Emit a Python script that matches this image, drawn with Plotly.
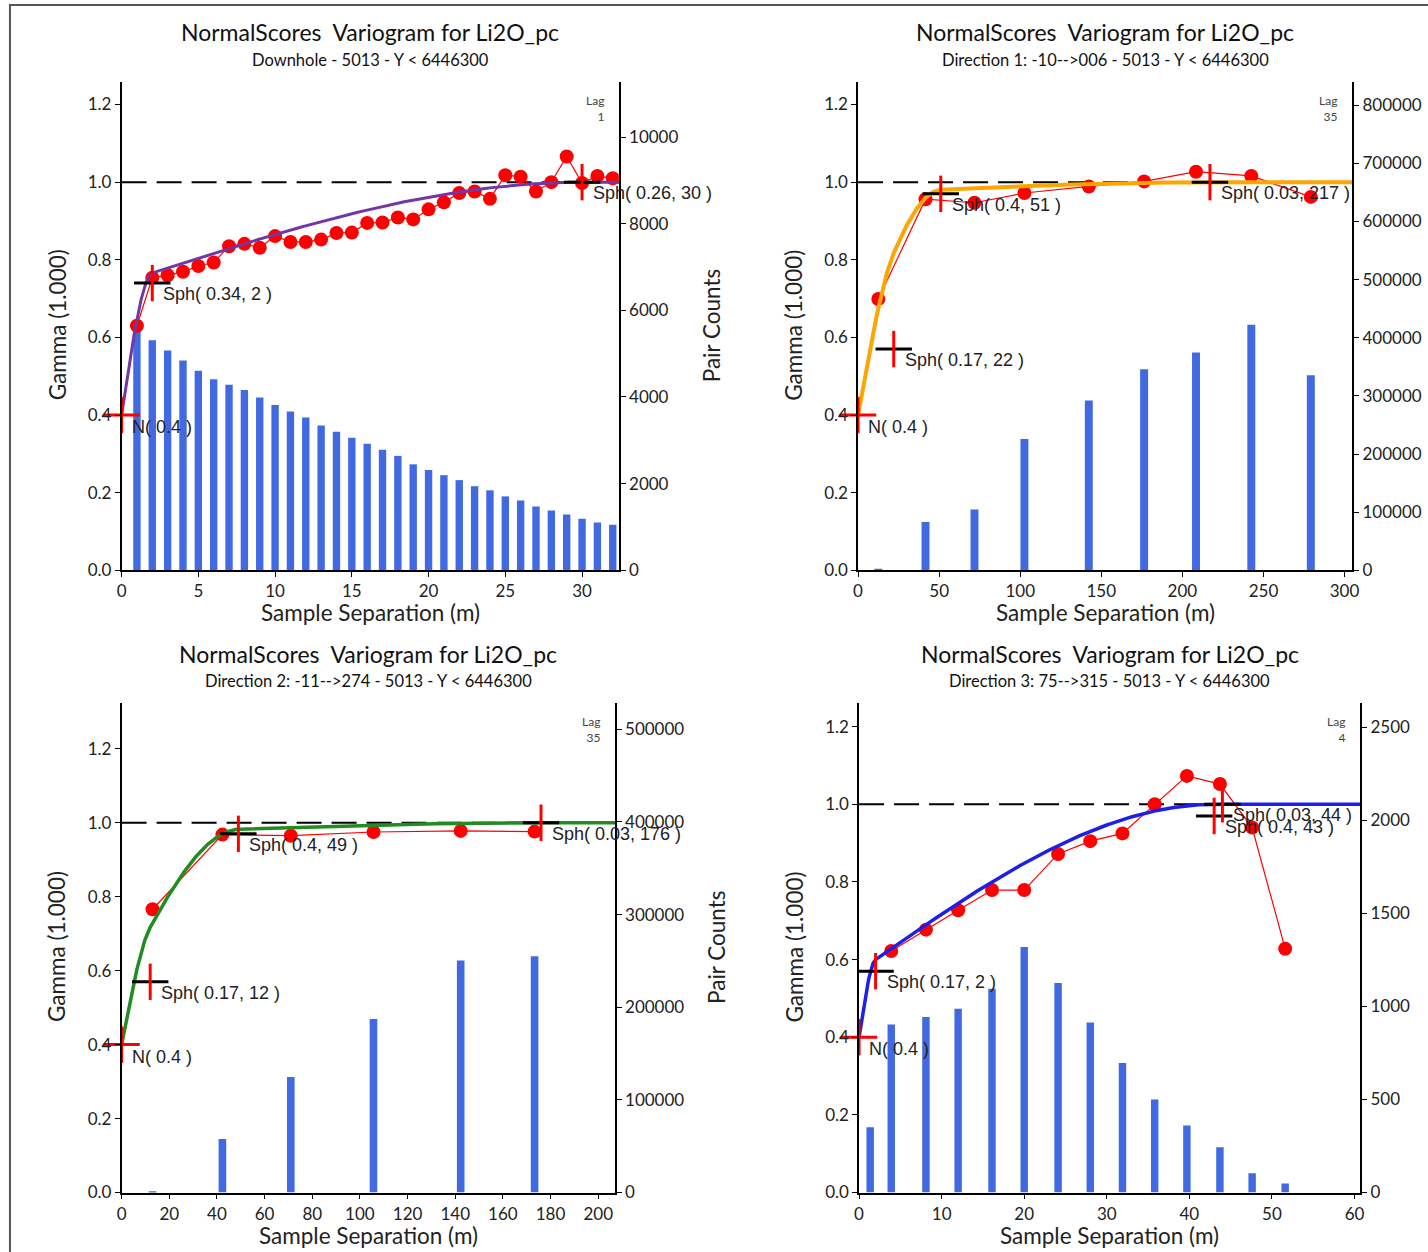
import numpy as np
import plotly.graph_objects as go

W, H = 1428, 1252

# ---------------- data ----------------
title_text = "NormalScores  Variogram for Li2O_pc"
subtitles = [
    "Downhole - 5013 - Y < 6446300",
    "Direction 1: -10-->006 - 5013 - Y < 6446300",
    "Direction 2: -11-->274 - 5013 - Y < 6446300",
    "Direction 3: 75-->315 - 5013 - Y < 6446300",
]
lag_sizes = [1, 35, 35, 4]

# Panel 1 : Downhole
lags_1 = [1, 2, 3, 4, 5, 6, 7, 8, 9, 10, 11, 12, 13, 14, 15, 16,
          17, 18, 19, 20, 21, 22, 23, 24, 25, 26, 27, 28, 29, 30, 31, 32]
gamma_1 = [0.630, 0.754, 0.760, 0.769, 0.784, 0.793, 0.835, 0.841, 0.831, 0.861, 0.846,
           0.846, 0.852, 0.869, 0.870, 0.895, 0.896, 0.909, 0.904, 0.930, 0.948, 0.972,
           0.976, 0.957, 1.018, 1.014, 0.976, 1.000, 1.066, 0.998, 1.016, 1.010]
pairs_1 = [5560, 5310, 5075, 4840, 4605, 4410, 4280, 4160, 3990, 3815, 3665, 3525,
           3340, 3200, 3060, 2920, 2780, 2640, 2445, 2315, 2195, 2080, 1940, 1845,
           1705, 1610, 1470, 1380, 1285, 1190, 1100, 1050]
nugget_1 = 0.4
sph_sills_1 = [0.34, 0.26]
sph_ranges_1 = [2, 30]

# Panel 2 : Direction 1
lags_2 = [12.5, 41.6, 71.8, 102.6, 142.3, 176.4, 208.4, 242.5, 279.2]
gamma_2 = [0.699, 0.956, 0.947, 0.972, 0.989, 1.002, 1.027, 1.016, 0.962]
pairs_2 = [2500, 83000, 104500, 226000, 292000, 346000, 374500, 422500, 335600]
nugget_2 = 0.4
sph_sills_2 = [0.17, 0.4, 0.03]
sph_ranges_2 = [22, 51, 217]

# Panel 3 : Direction 2
lags_3 = [13.0, 42.3, 71.0, 105.7, 142.3, 173.3]
gamma_3 = [0.766, 0.968, 0.965, 0.975, 0.978, 0.976]
pairs_3 = [1500, 57800, 124600, 187400, 250500, 254900]
nugget_3 = 0.4
sph_sills_3 = [0.17, 0.4, 0.03]
sph_ranges_3 = [12, 49, 176]

# Panel 4 : Direction 3
lags_4 = [3.9, 8.1, 12.0, 16.1, 20.0, 24.1, 28.0, 31.9, 35.8, 39.7, 43.7, 47.6, 51.6]
gamma_4 = [0.622, 0.677, 0.727, 0.779, 0.779, 0.872, 0.905, 0.925, 1.000, 1.073,
           1.052, 0.940, 0.628]
pair_lags_4 = [1.35, 3.9, 8.1, 12.0, 16.1, 20.0, 24.1, 28.0, 31.9, 35.8, 39.7, 43.7, 47.6, 51.6]
pairs_4 = [351, 903, 943, 988, 1095, 1320, 1126, 914, 696, 500, 360, 243, 103, 49]
nugget_4 = 0.4
sph_sills_4 = [0.17, 0.4, 0.03]
sph_ranges_4 = [2, 43, 44]

model_colors = ["rgb(115,55,165)", "rgb(255,165,0)", "rgb(34,139,34)", "rgb(30,30,235)"]
model_widths = [3, 4, 3.5, 3.5]

# layout scale factors (pixel boxes below are measured on the reference)
KX, KY = 1.005, 1.0085


def PX(v):
    return v * KX


def PY(v):
    return v * KY


panels = [
    dict(lags=lags_1, gamma=gamma_1, plags=lags_1, pairs=pairs_1, nug=nugget_1,
         sills=sph_sills_1, ranges=sph_ranges_1, px=(117, 616, 82, 570),
         xmax=32.4, gmax=1.258, cmax=11270, xdt=5, cdt=2000, barw=0.48, pc_off=93),
    dict(lags=lags_2, gamma=gamma_2, plags=lags_2, pairs=pairs_2, nug=nugget_2,
         sills=sph_sills_2, ranges=sph_ranges_2, px=(856, 1352, 82, 570),
         xmax=304.8, gmax=1.258, cmax=840000, xdt=50, cdt=100000, barw=4.9, pc_off=None),
    dict(lags=lags_3, gamma=gamma_3, plags=lags_3, pairs=pairs_3, nug=nugget_3,
         sills=sph_sills_3, ranges=sph_ranges_3, px=(117, 612, 703, 1192),
         xmax=207, gmax=1.323, cmax=528000, xdt=20, cdt=100000, barw=3.2, pc_off=103),
    dict(lags=lags_4, gamma=gamma_4, plags=pair_lags_4, pairs=pairs_4, nug=nugget_4,
         sills=sph_sills_4, ranges=sph_ranges_4, px=(857, 1360, 703, 1192),
         xmax=60.7, gmax=1.26, cmax=2629, xdt=10, cdt=500, barw=0.9, pc_off=None),
]


def sph_model(h, nug, sills, ranges):
    g = np.full(h.shape, float(nug))
    for c, a in zip(sills, ranges):
        r = np.minimum(h / a, 1.0)
        g += c * (1.5 * r - 0.5 * r ** 3)
    return g


def esc(s):
    return s.replace("<", "&lt;").replace(">", "&gt;")


TICKFONT = dict(family="Lato", size=17, color="#222")
LABFONT = dict(family="Liberation Sans", size=18, color="#222")
AXFONT = dict(family="Lato", size=22.5, color="#222")

fig = go.Figure()
layout = dict(width=W, height=H, margin=dict(l=0, r=0, t=0, b=0),
              paper_bgcolor="white", plot_bgcolor="white", showlegend=False)
annotations = []
shapes = []

for i, p in enumerate(panels, start=1):
    xid = "x" if i == 1 else f"x{i}"
    yc_n = 2 * i - 1
    yg_n = 2 * i
    ycid = "y" if yc_n == 1 else f"y{yc_n}"
    ygid = f"y{yg_n}"
    x0, x1, y0, y1 = p["px"]
    x0, x1, y0, y1 = PX(x0), PX(x1), PY(y0), PY(y1)

    xaxis = dict(domain=[x0 / W, x1 / W], range=[0, p["xmax"]], anchor=ycid,
                 showline=True, linecolor="black", linewidth=1.5, ticks="outside",
                 ticklen=5, tickcolor="black", tick0=0, dtick=p["xdt"], showgrid=False,
                 zeroline=False, tickfont=TICKFONT)
    ycount = dict(domain=[1 - y1 / H, 1 - y0 / H], range=[0, p["cmax"]], anchor=xid,
                  side="right", showline=True, linecolor="black", linewidth=1.5,
                  ticks="outside", ticklen=5, tickcolor="black", tick0=0, dtick=p["cdt"],
                  showgrid=False, zeroline=False, tickfont=TICKFONT, tickformat="d")
    ygamma = dict(range=[0, p["gmax"]], anchor=xid, overlaying=ycid, side="left",
                  showline=True, linecolor="black", linewidth=1.5, ticks="outside",
                  ticklen=5, tickcolor="black", tick0=0, dtick=0.2, tickformat=".1f",
                  showgrid=False, zeroline=False, tickfont=TICKFONT)
    layout["xaxis" if i == 1 else f"xaxis{i}"] = xaxis
    layout["yaxis" if yc_n == 1 else f"yaxis{yc_n}"] = ycount
    layout[f"yaxis{yg_n}"] = ygamma

    # pair count bars
    fig.add_trace(go.Bar(x=p["plags"], y=p["pairs"], width=p["barw"],
                         marker=dict(color="rgb(65,105,225)", line=dict(width=0)),
                         xaxis=xid, yaxis=ycid))

    # experimental variogram
    fig.add_trace(go.Scatter(x=p["lags"], y=p["gamma"], mode="lines+markers",
                             line=dict(color="red", width=1.2),
                             marker=dict(color="red", size=14),
                             xaxis=xid, yaxis=ygid))

    # model
    sill = p["nug"] + sum(p["sills"])
    h = np.unique(np.concatenate([np.linspace(0, p["xmax"], 800),
                                  np.array(p["ranges"], dtype=float)]))
    fig.add_trace(go.Scatter(x=h, y=sph_model(h, p["nug"], p["sills"], p["ranges"]),
                             mode="lines",
                             line=dict(color=model_colors[i - 1], width=model_widths[i - 1]),
                             xaxis=xid, yaxis=ygid))

    # sill line
    shapes.append(dict(type="line", xref=f"{xid} domain", yref=ygid, x0=0, x1=1,
                       y0=sill, y1=sill, layer="below",
                       line=dict(color="black", width=2, dash="25px,10px")))

    # nugget cross
    fig.add_trace(go.Scatter(x=[0, 0], y=[p["nug"], p["nug"]], mode="markers",
                             marker=dict(symbol=["line-ew", "line-ns"], size=26,
                                         line=dict(color="red", width=3), color="red"),
                             cliponaxis=False, xaxis=xid, yaxis=ygid))
    annotations.append(dict(xref=xid, yref=ygid, x=0, y=p["nug"], text=f"N( {p['nug']} )",
                            showarrow=False, xanchor="left", yanchor="middle",
                            xshift=8, yshift=-12, font=LABFONT))

    # structure markers
    cum = np.cumsum([p["nug"]] + p["sills"])[1:]
    fig.add_trace(go.Scatter(x=p["ranges"], y=cum, mode="markers",
                             marker=dict(symbol="line-ew", size=26,
                                         line=dict(color="black", width=3)),
                             cliponaxis=False, xaxis=xid, yaxis=ygid))
    fig.add_trace(go.Scatter(x=p["ranges"], y=cum, mode="markers",
                             marker=dict(symbol="line-ns", size=26,
                                         line=dict(color="red", width=3)),
                             cliponaxis=False, xaxis=xid, yaxis=ygid))
    for c, a, g in zip(p["sills"], p["ranges"], cum):
        annotations.append(dict(xref=xid, yref=ygid, x=a, y=g, text=f"Sph( {c}, {a} )",
                                showarrow=False, xanchor="left", yanchor="middle",
                                xshift=9, yshift=-11, font=LABFONT))

    # lag label
    annotations.append(dict(xref="paper", yref="paper", x=(x1 - 13) / W, y=1 - (y0 + 9) / H,
                            text=f"Lag<br>{lag_sizes[i - 1]}", showarrow=False,
                            xanchor="right", yanchor="top", align="right",
                            font=dict(family="Lato", size=12, color="#444")))

    # titles
    cx = (x0 + x1) / 2
    annotations.append(dict(xref="paper", yref="paper", x=cx / W, y=1 - (y0 - 50) / H,
                            text=title_text, showarrow=False, xanchor="center",
                            yanchor="middle", font=dict(family="Lato", size=23, color="#111")))
    annotations.append(dict(xref="paper", yref="paper", x=cx / W, y=1 - (y0 - 22) / H,
                            text=esc(subtitles[i - 1]), showarrow=False, xanchor="center",
                            yanchor="middle", font=dict(family="Lato", size=16.5, color="#111")))
    # axis titles
    annotations.append(dict(xref="paper", yref="paper", x=cx / W, y=1 - (y1 + 43) / H,
                            text="Sample Separation (m)", showarrow=False, xanchor="center",
                            yanchor="middle", font=AXFONT))
    annotations.append(dict(xref="paper", yref="paper", x=(x0 - 65) / W, y=1 - ((y0 + y1) / 2 - 1) / H,
                            text="Gamma (1.000)", showarrow=False, textangle=-90,
                            xanchor="center", yanchor="middle", font=AXFONT))
    if p["pc_off"] is not None:
        annotations.append(dict(xref="paper", yref="paper", x=(x1 + p["pc_off"]) / W,
                                y=1 - ((y0 + y1) / 2 - 1) / H,
                                text="Pair Counts", showarrow=False, textangle=-90,
                                xanchor="center", yanchor="middle", font=AXFONT))

# outer frame
shapes.append(dict(type="rect", xref="paper", yref="paper", x0=5 / W, x1=1.02,
                   y0=-0.02, y1=1 - 5 / H, line=dict(color="#555", width=2)))

layout["annotations"] = annotations
layout["shapes"] = shapes
fig.update_layout(**layout)
fig.write_html("out.html", config={"displayModeBar": False},
               post_script="document.body.style.margin='0px';")
